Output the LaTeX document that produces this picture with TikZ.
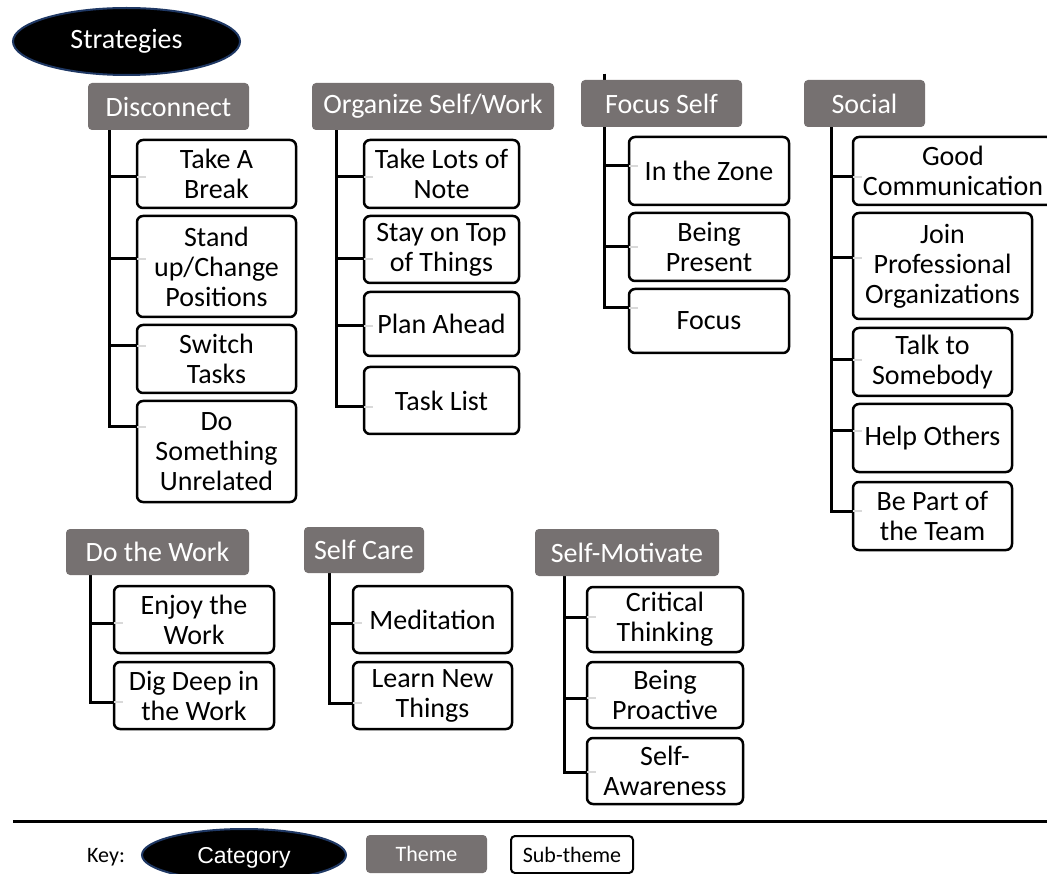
\documentclass[tikz,border=0pt]{standalone}
\usepackage{fontspec}
\setmainfont{Carlito}
\newfontfamily\arialf{Liberation Sans}
\usetikzlibrary{shapes.geometric}
\definecolor{themegray}{HTML}{767171}
\definecolor{navyedge}{HTML}{1F3864}
\definecolor{tickgray}{HTML}{D9D9D9}
\pgfdeclarelayer{background}
\pgfsetlayers{background,main}
\tikzset{
  bigfont/.style={font=\fontsize{28}{30}\selectfont},
  keyfont/.style={font=\fontsize{22}{24}\selectfont},
  themebox/.style={rectangle, fill=themegray, rounded corners=4pt, text=white, bigfont, inner sep=0pt},
  subbox/.style={rectangle, draw=black, line width=2.5pt, fill=white, rounded corners=6pt, align=center, bigfont, inner sep=0pt},
  catell/.style={ellipse, fill=black, draw=navyedge, line width=2pt, text=white, inner sep=0pt},
  conn/.style={draw=black, line width=3pt},
  tickline/.style={draw=tickgray, line width=2pt},
}
\newcommand\boxat[7]{%
  \pgfmathsetmacro\bw{#5-#3}\pgfmathsetmacro\bh{#6-#4}%
  \pgfmathsetmacro\bx{(#3+#5)/2}\pgfmathsetmacro\by{(#4+#6)/2}%
  \node[#1, minimum width=\bw pt, minimum height=\bh pt] (#2) at (\bx,\by) {#7};}
\newcommand\link[3]{\draw[conn] (#1) |- (#2.west |- 0,#3);}
\newcommand\tickat[2]{\draw[tickline] (#1.west |- 0,#2) ++(1.5,0) -- ++(9,0);}
\begin{document}
\begin{tikzpicture}[x=1pt,y=-1pt]
\useasboundingbox (0,0) rectangle (1047,874);
\clip (0,0) rectangle (1047,874);

% Category
\boxat{catell, bigfont}{strat}{13}{8}{240}{75}{Strategies}

% Themes
\boxat{themebox}{dis}{88}{83}{249}{130}{Disconnect}
\boxat{themebox}{org}{312}{83}{554}{130}{Organize Self/Work}
\boxat{themebox}{foc}{581}{80}{742}{127}{Focus Self}
\boxat{themebox}{soc}{804}{80}{925}{127}{Social}
\boxat{themebox}{dow}{66}{529}{249}{575}{Do the Work}
\boxat{themebox}{sca}{304}{527}{424}{573}{Self Care}
\boxat{themebox}{smo}{535}{529}{719}{576}{Self-Motivate}

% Trunk tops
\coordinate (disT) at (109,130);
\coordinate (orgT) at (336,130);
\coordinate (focT) at (604,74);
\coordinate (socT) at (831,127);
\coordinate (dowT) at (90,575);
\coordinate (scaT) at (329,573);
\coordinate (smoT) at (564,576);

% Sub-themes: Disconnect
\boxat{subbox}{d1}{137}{140}{296}{208}{Take A\\Break}
\boxat{subbox}{d2}{137}{216}{296}{317}{Stand\\up/Change\\Positions}
\boxat{subbox}{d3}{137}{325}{296}{393}{Switch\\Tasks}
\boxat{subbox}{d4}{137}{401}{296}{502}{Do\\Something\\Unrelated}
% Organize
\boxat{subbox}{o1}{364}{140}{519}{208}{Take Lots of\\Note}
\boxat{subbox}{o2}{364}{216}{519}{283}{Stay on Top\\of Things}
\boxat{subbox}{o3}{364}{292}{519}{356}{Plan Ahead}
\boxat{subbox}{o4}{364}{367}{519}{434}{Task List}
% Focus Self
\boxat{subbox}{f1}{629}{137}{789}{205}{In the Zone}
\boxat{subbox}{f2}{629}{213}{789}{281}{Being\\Present}
\boxat{subbox}{f3}{629}{289}{789}{353}{Focus}
% Social
\boxat{subbox}{s1}{853}{137}{1053}{205}{Good\\Communication}
\boxat{subbox}{s2}{853}{213}{1032}{319}{Join\\Professional\\Organizations}
\boxat{subbox}{s3}{853}{328}{1012}{396}{Talk to\\Somebody}
\boxat{subbox}{s4}{853}{404}{1012}{472}{Help Others}
\boxat{subbox}{s5}{853}{482}{1012}{550}{Be Part of\\the Team}
% Do the Work
\boxat{subbox}{w1}{114}{586}{274}{653}{Enjoy the\\Work}
\boxat{subbox}{w2}{114}{662}{274}{729}{Dig Deep in\\the Work}
% Self Care
\boxat{subbox}{c1}{353}{586}{512}{653}{Meditation}
\boxat{subbox}{c2}{353}{662}{512}{729}{Learn New\\Things}
% Self-Motivate
\boxat{subbox}{m1}{587}{587}{743}{652}{Critical\\Thinking}
\boxat{subbox}{m2}{587}{662}{743}{728}{Being\\Proactive}
\boxat{subbox}{m3}{587}{738}{743}{804}{Self-\\Awareness}

% Connectors
\begin{pgfonlayer}{background}
\link{disT}{d1}{177}\link{disT}{d2}{259}\link{disT}{d3}{346}\link{disT}{d4}{427}
\link{orgT}{o1}{177}\link{orgT}{o2}{259}\link{orgT}{o3}{326}\link{orgT}{o4}{407}
\link{focT}{f1}{166}\link{focT}{f2}{247}\link{focT}{f3}{308}
\link{socT}{s1}{177}\link{socT}{s2}{258}\link{socT}{s3}{360}\link{socT}{s4}{431}\link{socT}{s5}{511}
\link{dowT}{w1}{623}\link{dowT}{w2}{702}
\link{scaT}{c1}{623}\link{scaT}{c2}{703}
\link{smoT}{m1}{617}\link{smoT}{m2}{698}\link{smoT}{m3}{772}
\end{pgfonlayer}

% Faint ticks inside boxes
\tickat{d1}{177}\tickat{d2}{259}\tickat{d3}{346}\tickat{d4}{427}
\tickat{o1}{177}\tickat{o2}{259}\tickat{o3}{326}\tickat{o4}{407}
\tickat{f1}{166}\tickat{f2}{247}\tickat{f3}{308}
\tickat{s1}{177}\tickat{s2}{258}\tickat{s3}{360}\tickat{s4}{431}\tickat{s5}{511}
\tickat{w1}{623}\tickat{w2}{702}
\tickat{c1}{623}\tickat{c2}{703}
\tickat{m1}{617}\tickat{m2}{698}\tickat{m3}{772}

% Separator and key
\coordinate (sepL) at (13,821.5);
\coordinate (sepR) at (1047,821.5);
\draw[line width=3pt] (sepL) -- (sepR);
\node[keyfont, anchor=base west, inner sep=0pt] (keylbl) at (87,862) {Key:};
\boxat{catell, text depth=0pt}{kcat}{142}{829}{346}{881}{\fontsize{23}{25}\selectfont\arialf Category}
\boxat{themebox, keyfont}{kthm}{366}{835}{487}{873}{Theme}
\boxat{subbox, keyfont, line width=2pt, rounded corners=4pt}{ksub}{511}{836}{633}{873}{Sub-theme}
\end{tikzpicture}
\end{document}
